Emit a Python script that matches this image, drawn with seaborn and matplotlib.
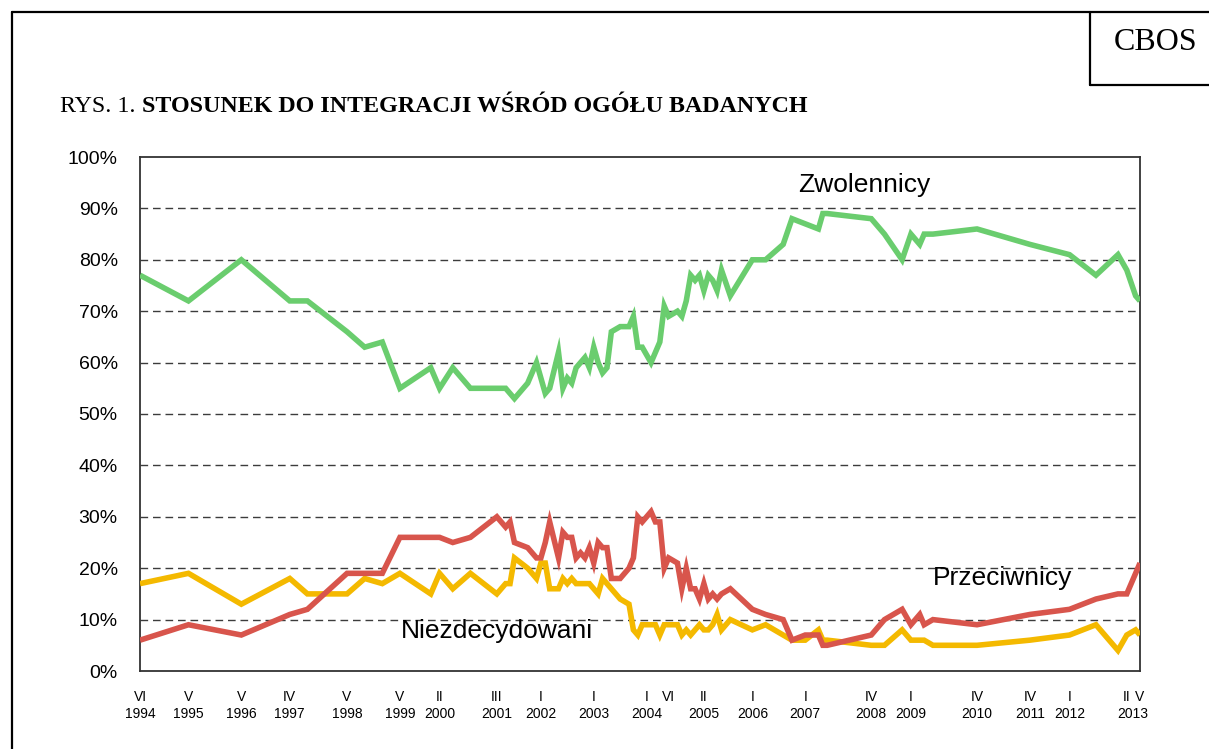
import pandas as pd
import numpy as np
import matplotlib.pyplot as plt
from matplotlib.lines import Line2D
import matplotlib.transforms as mtransforms
import seaborn as sns

# ── Data (survey month, % share) ─────────────────────────────────────────────
SURVEYS = [
    "1994-06", "1995-05", "1996-05", "1997-04", "1997-08", "1998-05", "1998-09",
    "1999-01", "1999-05", "1999-12", "2000-02", "2000-05", "2000-09", "2001-03",
    "2001-05", "2001-06", "2001-07", "2001-10", "2001-12", "2002-01", "2002-02",
    "2002-03", "2002-05", "2002-06", "2002-07", "2002-08", "2002-09", "2002-10",
    "2002-11", "2002-12", "2003-01", "2003-02", "2003-03", "2003-04", "2003-05",
    "2003-07", "2003-09", "2003-10", "2003-11", "2003-12", "2004-02", "2004-03",
    "2004-04", "2004-05", "2004-06", "2004-08", "2004-09", "2004-10", "2004-11",
    "2004-12", "2005-01", "2005-02", "2005-03", "2005-04", "2005-05", "2005-06",
    "2005-08", "2006-01", "2006-04", "2006-08", "2006-10", "2007-01", "2007-04",
    "2007-05", "2007-06", "2008-04", "2008-07", "2008-11", "2009-01", "2009-03",
    "2009-04", "2009-06", "2010-04", "2011-04", "2012-01", "2012-07", "2012-12",
    "2013-02", "2013-04", "2013-05",
]
ZWOLENNICY = [
    77, 72, 80, 72, 72, 66, 63, 64, 55, 59, 55, 59, 55, 55,
    55, 54, 53, 56, 60, 57, 54, 55, 62, 55, 57, 56, 59, 60,
    61, 59, 63, 60, 58, 59, 66, 67, 67, 69, 63, 63, 60, 62,
    64, 71, 69, 70, 69, 72, 77, 76, 77, 74, 77, 76, 74, 78,
    73, 80, 80, 83, 88, 87, 86, 89, 89, 88, 85, 80, 85, 83,
    85, 85, 86, 83, 81, 77, 81, 78, 73, 72,
]
PRZECIWNICY = [
    6, 9, 7, 11, 12, 19, 19, 19, 26, 26, 26, 25, 26, 30,
    28, 29, 25, 24, 22, 22, 25, 29, 22, 27, 26, 26, 22, 23,
    22, 24, 21, 25, 24, 24, 18, 18, 20, 22, 30, 29, 31, 29,
    29, 20, 22, 21, 16, 20, 16, 16, 14, 17, 14, 15, 14, 15,
    16, 12, 11, 10, 6, 7, 7, 5, 5, 7, 10, 12, 9, 11,
    9, 10, 9, 11, 12, 14, 15, 15, 19, 21,
]
NIEZDECYDOWANI = [
    17, 19, 13, 18, 15, 15, 18, 17, 19, 15, 19, 16, 19, 15,
    17, 17, 22, 20, 18, 21, 21, 16, 16, 18, 17, 18, 17, 17,
    17, 17, 16, 15, 18, 17, 16, 14, 13, 8, 7, 9, 9, 9,
    7, 9, 9, 9, 7, 8, 7, 8, 9, 8, 8, 9, 11, 8,
    10, 8, 9, 7, 6, 6, 8, 6, 6, 5, 5, 8, 6, 6,
    6, 5, 5, 6, 7, 9, 4, 7, 8, 7,
]

SERIES_NAMES = ["Zwolennicy", "Przeciwnicy", "Niezdecydowani"]

TICK_DATES  = ["1994-06", "1995-05", "1996-05", "1997-04", "1998-05", "1999-05",
               "2000-02", "2001-03", "2002-01", "2003-01", "2004-01", "2004-06",
               "2005-02", "2006-01", "2007-01", "2008-04", "2009-01", "2010-04",
               "2011-04", "2012-01", "2013-02", "2013-05"]
TICK_MONTHS = ["VI", "V", "V", "IV", "V", "V", "II", "III", "I", "I", "I", "VI",
               "II", "I", "I", "IV", "I", "IV", "IV", "I", "II", "V"]
YEAR_LABELS = ["1994", "1995", "1996", "1997", "1998", "1999", "2000", "2001",
               "2002", "2003", "2004", "2005", "2006", "2007", "2008", "2009",
               "2010", "2011", "2012", "2013"]
YEAR_DATES  = ["1994-06", "1995-05", "1996-05", "1997-04", "1998-05", "1999-05",
               "2000-02", "2001-03", "2002-01", "2003-01", "2004-01", "2005-02",
               "2006-01", "2007-01", "2008-04", "2009-01", "2010-04", "2011-04",
               "2012-01", "2013-03-15"]


def month_index(s):
    # months since VI 1994 (optional day used only to centre a label)
    parts = s.split("-")
    m = (int(parts[0]) - 1994) * 12 + int(parts[1]) - 6
    if len(parts) > 2:
        m += (int(parts[2]) - 1) / 30
    return m


# ── Style ─────────────────────────────────────────────────────────────────────
sns.set_style("white")
plt.rcParams.update({
    "font.family": ["Liberation Sans", "DejaVu Sans"],
    "text.color":  "black",
    "xtick.color": "black",
    "ytick.color": "black",
})

PALETTE = {"Zwolennicy": "#6ACD6E", "Przeciwnicy": "#D8554C", "Niezdecydowani": "#F4B900"}

rows = []
for name, vals in zip(SERIES_NAMES, [ZWOLENNICY, PRZECIWNICY, NIEZDECYDOWANI]):
    for d, v in zip(SURVEYS, vals):
        rows.append({"m": month_index(d), "pct": v, "seria": name})
df = pd.DataFrame(rows)

fig = plt.figure(figsize=(12.09, 7.49), dpi=100)
ax = fig.add_axes([140 / 1209, 1 - 671 / 749, 1000 / 1209, 514 / 749])

# dashed grid under the lines
for v in range(10, 100, 10):
    ax.axhline(v, color="#3c3c3c", lw=1.0, ls=(0, (5.5, 3.5)), zorder=1)

sns.lineplot(data=df, x="m", y="pct", hue="seria", palette=PALETTE,
             hue_order=["Niezdecydowani", "Przeciwnicy", "Zwolennicy"],
             linewidth=4.0, legend=False, ax=ax, zorder=3,
             solid_joinstyle="miter", solid_capstyle="butt")

ax.set_xlim(0, month_index("2013-05"))
ax.set_ylim(0, 100)
ax.set_xlabel("")
ax.set_ylabel("")

ax.set_yticks(range(0, 101, 10))
ax.set_yticklabels([f"{v}%" for v in range(0, 101, 10)], fontsize=14)
ax.tick_params(axis="y", length=0, pad=16)

ax.set_xticks([month_index(d) for d in TICK_DATES])
ax.set_xticklabels(TICK_MONTHS, fontsize=10)
ax.tick_params(axis="x", which="major", length=0, pad=13.5)

# year row under the month row
trans = mtransforms.blended_transform_factory(ax.transData, fig.transFigure)
for d, y in zip(YEAR_DATES, YEAR_LABELS):
    ax.text(month_index(d), 1 - 714 / 749, y, transform=trans, fontsize=10,
            ha="center", va="center", clip_on=False)

for sp in ax.spines.values():
    sp.set_visible(True)
    sp.set_color("#333333")
    sp.set_linewidth(1.3)

# series labels
ax.text(month_index("2008-07") - 4.5, 94.6, "Zwolennicy", fontsize=19, ha="center", va="center")
ax.text(month_index("2011-04") - 6.3, 18.1, "Przeciwnicy", fontsize=19, ha="center", va="center")
ax.text(month_index("2002-01") - 10, 7.8, "Niezdecydowani", fontsize=19, ha="center", va="center")

# page frame and CBOS box
fig.add_artist(Line2D([12 / 1209, 12 / 1209], [0, 1 - 12 / 749], color="black", lw=1.6))
fig.add_artist(Line2D([12 / 1209, 1], [1 - 12 / 749, 1 - 12 / 749], color="black", lw=1.6))
fig.add_artist(Line2D([1090 / 1209, 1090 / 1209], [1 - 12 / 749, 1 - 85 / 749], color="black", lw=1.6))
fig.add_artist(Line2D([1090 / 1209, 1], [1 - 85 / 749, 1 - 85 / 749], color="black", lw=1.6))
fig.text(1156 / 1209, 1 - 42 / 749, "CBOS", fontsize=23, family="Liberation Serif",
         ha="center", va="center")

# title: regular prefix + bold text
t1 = fig.text(60 / 1209, 1 - 106 / 749, "RYS. 1. ", fontsize=17.3, family="Liberation Serif",
              ha="left", va="center")
fig.canvas.draw()
bb = t1.get_window_extent()
fig.text(bb.x1 / 1209, 1 - 106 / 749, "STOSUNEK DO INTEGRACJI WŚRÓD OGÓŁU BADANYCH",
         fontsize=17.3, family="Liberation Serif", weight="bold", ha="left", va="center")

fig.savefig("out.png", dpi=100)
